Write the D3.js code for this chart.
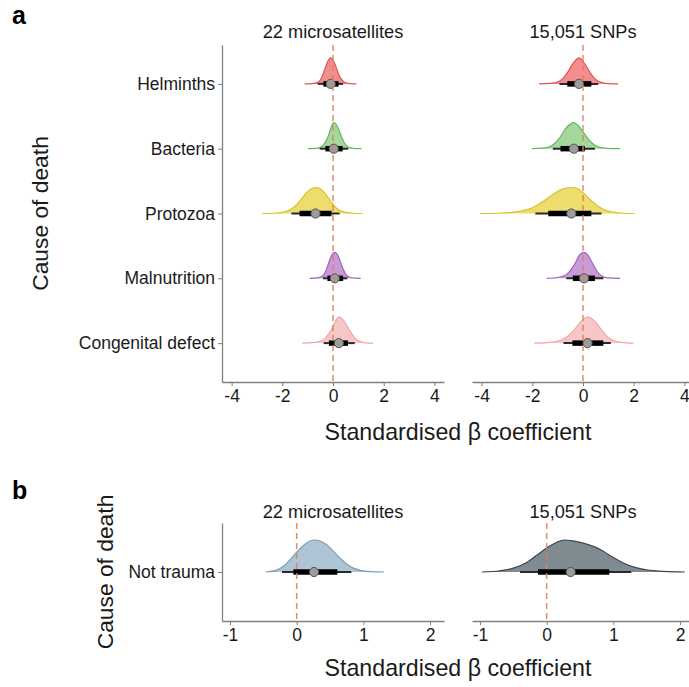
<!DOCTYPE html>
<html><head><meta charset="utf-8">
<script src="https://cdn.jsdelivr.net/npm/d3@7"></script>
<style>
html,body{margin:0;padding:0;background:#fff;}
text{font-family:"Liberation Sans",Arial,sans-serif;}
</style></head>
<body><svg id="chart" width="689" height="687"></svg>
<script>
// ---------- DATA ----------
const causes = ["Helminths","Bacteria","Protozoa","Malnutrition","Congenital defect"];
const causesB = ["Not trauma"];
const markerTitles = ["22 microsatellites","15,051 SNPs"];
const xTicksA = [-4,-2,0,2,4];
const xTicksB = [-1,0,1,2];
const fillColors = ["#f28e8e","#a6d89e","#eedc6c","#c89bd8","#f7c7c7"];
const lineColors = ["#e25454","#62b95e","#d8c42c","#a262bc","#eea8a8"];
const fillB = ["#aec5d6","#7e8b90"];
const lineB = ["#7c9db4","#3e484c"];

// medians, 66% (thick) and 95% (thin) intervals — microsatellites
const msatMedian = [-0.09, 0.03, -0.69, 0.07, 0.23];
const msatThick = [[-0.38,0.22],[-0.30,0.38],[-1.32,-0.06],[-0.22,0.40],[-0.16,0.59]];
const msatThin  = [[-0.60,0.40],[-0.52,0.60],[-1.64,0.26],[-0.40,0.57],[-0.37,0.86]];
// SNPs
const snpMedian = [-0.16, -0.36, -0.46, 0.04, 0.18];
const snpThick = [[-0.62,0.33],[-0.89,0.07],[-1.37,0.33],[-0.40,0.47],[-0.42,0.80]];
const snpThin  = [[-0.93,0.60],[-1.19,0.47],[-1.88,0.73],[-0.66,0.80],[-0.77,1.10]];
// Not trauma
const ntMedian = [0.26, 0.36];
const ntThick = [[-0.05,0.61],[-0.13,0.94]];
const ntThin  = [[-0.22,0.82],[-0.40,1.27]];

// density curves [x, relative height]
const densHelminthsMsat = [[-1.12,0],[-0.8,0.01],[-0.6,0.06],[-0.5,0.15],[-0.4,0.35],[-0.3,0.62],[-0.2,0.88],[-0.09,1],[0.0,0.92],[0.1,0.7],[0.2,0.43],[0.3,0.22],[0.4,0.1],[0.5,0.04],[0.7,0.01],[0.92,0]];
const densBacteriaMsat = [[-0.99,0],[-0.7,0.01],[-0.5,0.05],[-0.35,0.18],[-0.2,0.45],[-0.1,0.75],[0.03,1],[0.15,0.9],[0.25,0.68],[0.35,0.42],[0.45,0.22],[0.55,0.1],[0.7,0.03],[0.9,0.005],[1.12,0]];
const densProtozoaMsat = [[-2.79,0],[-2.3,0.01],[-2.0,0.04],[-1.8,0.1],[-1.6,0.2],[-1.4,0.38],[-1.2,0.62],[-1.0,0.85],[-0.8,0.98],[-0.66,1],[-0.5,0.95],[-0.3,0.75],[-0.1,0.48],[0.1,0.24],[0.3,0.1],[0.5,0.04],[0.8,0.01],[1.16,0]];
const densMalnutritionMsat = [[-0.92,0],[-0.6,0.02],[-0.4,0.1],[-0.3,0.25],[-0.2,0.5],[-0.1,0.78],[0.0,0.96],[0.07,1],[0.15,0.95],[0.25,0.75],[0.35,0.48],[0.45,0.25],[0.55,0.1],[0.7,0.03],[0.9,0.005],[1.09,0]];
const densCongenitalMsat = [[-1.21,0],[-0.8,0.02],[-0.5,0.08],[-0.3,0.2],[-0.1,0.45],[0.05,0.75],[0.15,0.93],[0.23,1],[0.35,0.95],[0.5,0.75],[0.65,0.5],[0.8,0.28],[0.95,0.12],[1.1,0.05],[1.3,0.01],[1.58,0]];
const densHelminthsSnp = [[-1.73,0],[-1.3,0.02],[-1.0,0.07],[-0.8,0.2],[-0.6,0.45],[-0.4,0.78],[-0.25,0.95],[-0.16,1],[-0.05,0.93],[0.1,0.72],[0.25,0.48],[0.4,0.27],[0.55,0.13],[0.75,0.05],[1.0,0.01],[1.39,0]];
const densBacteriaSnp = [[-2.02,0],[-1.6,0.02],[-1.3,0.08],[-1.1,0.22],[-0.9,0.45],[-0.7,0.75],[-0.5,0.95],[-0.37,1],[-0.2,0.9],[0.0,0.65],[0.2,0.38],[0.4,0.18],[0.6,0.07],[0.85,0.02],[1.1,0.005],[1.46,0]];
const densProtozoaSnp = [[-4.05,0],[-3.3,0.01],[-2.8,0.04],[-2.4,0.1],[-2.0,0.22],[-1.6,0.45],[-1.2,0.72],[-0.9,0.9],[-0.6,0.99],[-0.4,1],[-0.2,0.95],[0.0,0.8],[0.3,0.52],[0.6,0.28],[0.9,0.12],[1.2,0.05],[1.6,0.01],[2.03,0]];
const densMalnutritionSnp = [[-1.43,0],[-1.0,0.03],[-0.7,0.12],[-0.5,0.3],[-0.3,0.6],[-0.15,0.88],[0.04,1],[0.2,0.88],[0.35,0.62],[0.5,0.35],[0.65,0.16],[0.8,0.06],[1.0,0.015],[1.46,0]];
const densCongenitalSnp = [[-1.92,0],[-1.4,0.02],[-1.0,0.08],[-0.7,0.2],[-0.4,0.45],[-0.15,0.75],[0.05,0.95],[0.2,1],[0.4,0.9],[0.6,0.68],[0.8,0.42],[1.0,0.22],[1.2,0.1],[1.5,0.03],[1.99,0]];
const densNotTraumaMsat = [[-0.46,0],[-0.3,0.06],[-0.2,0.18],[-0.1,0.38],[0.0,0.62],[0.1,0.83],[0.2,0.97],[0.27,1],[0.35,0.97],[0.45,0.85],[0.55,0.65],[0.65,0.43],[0.75,0.25],[0.85,0.12],[0.95,0.05],[1.1,0.01],[1.31,0]];
const densNotTraumaSnp = [[-0.97,0],[-0.7,0.04],[-0.5,0.12],[-0.3,0.3],[-0.15,0.52],[0.0,0.75],[0.15,0.93],[0.26,1],[0.4,0.97],[0.55,0.9],[0.7,0.8],[0.85,0.65],[1.0,0.45],[1.15,0.28],[1.3,0.16],[1.5,0.07],[1.75,0.02],[2.07,0]];

const densMsat = [densHelminthsMsat,densBacteriaMsat,densProtozoaMsat,densMalnutritionMsat,densCongenitalMsat];
const densSnp = [densHelminthsSnp,densBacteriaSnp,densProtozoaSnp,densMalnutritionSnp,densCongenitalSnp];

// ---------- DRAW ----------
const svg = d3.select("#chart");
const axisGray = "#808080";
const refColor = "#e0805c";

function styleAxis(g){
  g.selectAll("path.domain").attr("stroke",axisGray).attr("stroke-width",1.3);
  g.selectAll(".tick line").attr("stroke",axisGray).attr("stroke-width",1);
  g.selectAll(".tick text").attr("fill","#1a1a1a").attr("font-family","Liberation Sans, Arial, sans-serif");
}

function drawRidge(g, x, yBase, H, dens, fill, stroke, med, thick, thin){
  const area = d3.area().x(d=>x(d[0])).y0(yBase).y1(d=>yBase - d[1]*H).curve(d3.curveMonotoneX);
  const line = d3.line().x(d=>x(d[0])).y(d=>yBase - d[1]*H).curve(d3.curveMonotoneX);
  g.append("path").attr("d",area(dens)).attr("fill",fill).attr("stroke","none");
  g.append("path").attr("d",line(dens)).attr("fill","none").attr("stroke",stroke).attr("stroke-width",1.2);
  g.append("line").attr("x1",x(thin[0])).attr("x2",x(thin[1])).attr("y1",yBase).attr("y2",yBase)
    .attr("stroke","#2a2a2a").attr("stroke-width",2);
  g.append("line").attr("x1",x(thick[0])).attr("x2",x(thick[1])).attr("y1",yBase).attr("y2",yBase)
    .attr("stroke","#000").attr("stroke-width",5.5);
  g.append("circle").attr("cx",x(med)).attr("cy",yBase).attr("r",4.6)
    .attr("fill","#9c9c9c").attr("stroke","#555").attr("stroke-width",1);
}

function drawSection(cfg){
  const y = d3.scalePoint().domain(cfg.cats).range([cfg.top,cfg.bottom]).padding(0.6);
  const panels = [[222,444],[472,694]];
  panels.forEach((rng,pi)=>{
    const x = d3.scaleLinear().domain(cfg.domain).range(rng);
    const g = svg.append("g");
    const ax = g.append("g").attr("transform",`translate(0,${cfg.bottom})`)
      .call(d3.axisBottom(x).tickValues(cfg.ticks).tickSize(4).tickSizeOuter(0).tickPadding(4).tickFormat(d=>d<0?"-"+Math.abs(d):d))
      .attr("font-size",17.5);
    styleAxis(ax);
    g.append("text").attr("x",(rng[0]+rng[1])/2).attr("y",cfg.titleY).attr("text-anchor","middle")
      .attr("font-size",18.2).attr("fill","#1a1a1a").text(markerTitles[pi]);
    cfg.cats.forEach((c,i)=>{
      const ridgeG = g.append("g");
      drawRidge(ridgeG, x, y(c), cfg.H, cfg.dens[pi][i], cfg.fill[pi][i], cfg.stroke[pi][i],
        cfg.med[pi][i], cfg.thick[pi][i], cfg.thin[pi][i]);
    });
    g.append("line").attr("x1",x(0)).attr("x2",x(0)).attr("y1",cfg.top).attr("y2",cfg.bottom)
      .attr("stroke",refColor).attr("stroke-width",1.5).attr("stroke-dasharray","6,4").attr("opacity",0.9);
  });
  const ay = svg.append("g").attr("transform","translate(222,0)")
    .call(d3.axisLeft(y).tickSize(4).tickSizeOuter(0).tickPadding(3)).attr("font-size",17.5);
  styleAxis(ay);
  svg.append("text").attr("transform",`translate(${cfg.yTitleX},${(cfg.top+cfg.bottom)/2}) rotate(-90)`)
    .attr("text-anchor","middle").attr("font-size",22.8).attr("fill","#1a1a1a").text("Cause of death");
  svg.append("text").attr("x",458).attr("y",cfg.xTitleY).attr("text-anchor","middle")
    .attr("font-size",23.2).attr("fill","#1a1a1a").text("Standardised β coefficient");
  svg.append("text").attr("x",12).attr("y",cfg.letterY).attr("font-size",25).attr("font-weight","bold")
    .attr("fill","#000").text(cfg.letter);
}

drawSection({
  cats: causes, top:45, bottom:382, domain:[-4.38,4.38], ticks:xTicksA, H:26,
  dens:[densMsat,densSnp], fill:[fillColors,fillColors], stroke:[lineColors,lineColors],
  med:[msatMedian,snpMedian], thick:[msatThick,snpThick], thin:[msatThin,snpThin],
  titleY:38, xTitleY:440, yTitleX:48, letter:"a", letterY:24
});
drawSection({
  cats: causesB, top:523, bottom:621, domain:[-1.12,2.21], ticks:xTicksB, H:32,
  dens:[[densNotTraumaMsat],[densNotTraumaSnp]], fill:[[fillB[0]],[fillB[1]]], stroke:[[lineB[0]],[lineB[1]]],
  med:[[ntMedian[0]],[ntMedian[1]]], thick:[[ntThick[0]],[ntThick[1]]], thin:[[ntThin[0]],[ntThin[1]]],
  titleY:518, xTitleY:676, yTitleX:113, letter:"b", letterY:499
});
</script></body></html>
